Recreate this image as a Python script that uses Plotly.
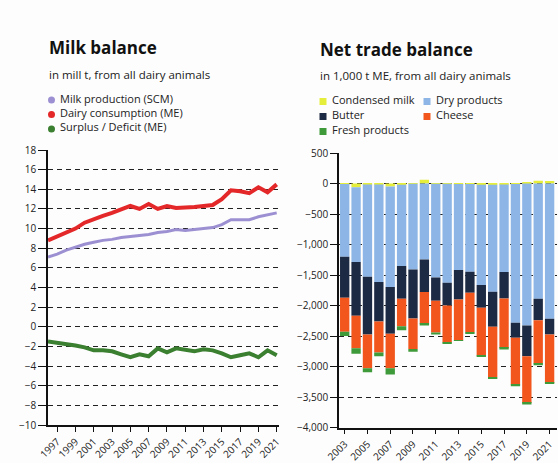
import plotly.graph_objects as go

W, H = 558, 463

# ---------------- data: Milk balance (mill t) ----------------
years_milk = list(range(1996, 2022))
milk_production = [7.1, 7.4, 7.8, 8.1, 8.4, 8.6, 8.8, 8.9, 9.1, 9.2, 9.3, 9.4, 9.6,
                   9.7, 9.9, 9.8, 9.9, 10.0, 10.1, 10.4, 10.9, 10.9, 10.9, 11.2, 11.4, 11.6]
dairy_consumption = [8.8, 9.2, 9.5, 10.0, 10.6, 11.0, 11.3, 11.6, 11.9, 12.3, 12.0, 12.5, 12.0,
                     12.3, 12.1, 12.1, 12.2, 12.3, 12.4, 13.0, 13.9, 13.8, 13.6, 14.2, 13.7, 14.5]
surplus_deficit = [-1.5, -1.6, -1.7, -1.9, -2.1, -2.4, -2.4, -2.5, -2.8, -3.1, -2.8, -3.0, -2.2,
                   -2.6, -2.2, -2.4, -2.5, -2.3, -2.4, -2.7, -3.1, -2.9, -2.7, -3.1, -2.4, -2.9]
milk_names = ["Milk production (SCM)", "Dairy consumption (ME)", "Surplus / Deficit (ME)"]
milk_colors = ["#9d90d2", "#e4282a", "#3b7f30"]
milk_xticks = list(range(1997, 2022, 2))
milk_yticks = list(range(-10, 19, 2))

# ---------------- data: Net trade balance (1,000 t ME) ----------------
years_trade = list(range(2003, 2022))
condensed_milk = [-10, -60, -15, -15, -50, -20, -5, 60, -5, -5, -10, -10, -20, -20, -15, -10, 25, 45, 40]
dry_products = [-1190, -1228, -1515, -1601, -1645, -1334, -1403, -1244, -1537, -1622,
                -1409, -1436, -1643, -1753, -1434, -2274, -2328, -1890, -2218]
butter = [-674, -882, -946, -646, -767, -536, -807, -534, -381, -373,
          -482, -345, -375, -577, -436, -246, -504, -351, -258]
cheese = [-557, -530, -551, -510, -568, -450, -499, -520, -520, -605,
          -668, -647, -783, -821, -810, -767, -766, -711, -794]
fresh_products = [-70, -90, -68, -60, -103, -65, -44, -30, -33, -15,
                  -10, -20, -22, -33, -28, -28, -23, -28, -10]
trade_names = ["Condensed milk", "Dry products", "Butter", "Cheese", "Fresh products"]
trade_colors = ["#e6ee3c", "#8db6e6", "#1d2a43", "#f2561d", "#3f9a3a"]
trade_xticks = list(range(2003, 2022, 2))
trade_yticks = list(range(-4000, 501, 500))

FONT = "Open Sans"


def px(x):
    return x / W


def py(y):
    return 1 - y / H


fig = go.Figure()

milk_series = [milk_production, dairy_consumption, surplus_deficit]
widths = [3, 4, 4]
for name, vals, col, w in zip(milk_names, milk_series, milk_colors, widths):
    fig.add_trace(go.Scatter(x=years_milk, y=vals, mode="lines", name=name,
                             line=dict(color=col, width=w), xaxis="x", yaxis="y",
                             showlegend=False))

trade_series = [condensed_milk, dry_products, butter, cheese, fresh_products]
for name, vals, col in zip(trade_names, trade_series, trade_colors):
    fig.add_trace(go.Bar(x=years_trade, y=vals, name=name, marker=dict(color=col, line=dict(width=0)),
                         xaxis="x2", yaxis="y2", showlegend=False))

axis_common = dict(showline=True, linecolor="#111", linewidth=1.6, ticks="outside",
                   tickcolor="#111", tickwidth=1.4, zeroline=False, automargin=False,
                   tickfont=dict(family=FONT, size=10, color="#222"))
grid = dict(showgrid=True, gridcolor="#222", gridwidth=1.2, griddash="5px,4px")

fig.update_layout(
    width=W, height=H, margin=dict(l=0, r=0, t=0, b=0, pad=0), autosize=False,
    paper_bgcolor="#fdfdfd", plot_bgcolor="rgba(0,0,0,0)",
    barmode="relative", bargap=0.18,
    xaxis=dict(domain=[px(48), px(279)], range=[1996, 2021.25], tickvals=milk_xticks,
               tickangle=-45, ticklen=5, showgrid=False, anchor="y", **axis_common),
    yaxis=dict(domain=[py(425), py(150)], range=[-10, 18], tickvals=milk_yticks,
               ticklen=8, anchor="x", **axis_common, **grid),
    xaxis2=dict(domain=[px(339), px(557)], range=[2002.5, 2021.65], tickvals=trade_xticks,
                tickangle=-45, ticklen=5, showgrid=False, anchor="y2", **axis_common),
    yaxis2=dict(domain=[py(427.5), py(153)], range=[-4000, 500], tickvals=trade_yticks,
                tickformat=",d", ticklen=7, anchor="x2", **axis_common, **grid),
)

ann = []
ann.append(dict(text="<b>Milk balance</b>", x=px(47), y=py(48), xanchor="left", yanchor="middle",
                font=dict(family=FONT, size=17, color="#111")))
ann.append(dict(text="in mill t, from all dairy animals", x=px(47), y=py(75), xanchor="left",
                yanchor="middle", font=dict(family=FONT, size=11.5, color="#222")))
ann.append(dict(text="<b>Net trade balance</b>", x=px(318), y=py(50), xanchor="left", yanchor="middle",
                font=dict(family=FONT, size=17, color="#111")))
ann.append(dict(text="in 1,000 t ME, from all dairy animals", x=px(318), y=py(76), xanchor="left",
                yanchor="middle", font=dict(family=FONT, size=11.5, color="#222")))

shapes = []
left_rows = [100, 114.5, 129]
for name, col, yy in zip(milk_names, milk_colors, left_rows):
    shapes.append(dict(type="circle", xref="paper", yref="paper", x0=px(48), x1=px(55),
                       y0=py(yy + 3.5), y1=py(yy - 3.5), fillcolor=col, line=dict(width=0)))
    ann.append(dict(text=name, x=px(58), y=py(yy - 2), xanchor="left", yanchor="middle",
                    font=dict(family=FONT, size=11, color="#222")))

right_pos = [(323, 101.5), (427, 101.5), (323, 116.5), (427, 116.5), (323, 131.5)]
for name, col, (xx, yy) in zip(trade_names, trade_colors, right_pos):
    shapes.append(dict(type="rect", xref="paper", yref="paper", x0=px(xx - 3.5), x1=px(xx + 3.5),
                       y0=py(yy + 3.5), y1=py(yy - 3.5), fillcolor=col, line=dict(width=0)))
    ann.append(dict(text=name, x=px(xx + 7), y=py(yy - 2), xanchor="left", yanchor="middle",
                    font=dict(family=FONT, size=11, color="#222")))

for a in ann:
    a.update(xref="paper", yref="paper", showarrow=False)
fig.update_layout(annotations=ann, shapes=shapes)

fig.write_html("out.html", config={"displayModeBar": False},
               post_script="document.body.style.margin='0';document.body.style.padding='0';")
